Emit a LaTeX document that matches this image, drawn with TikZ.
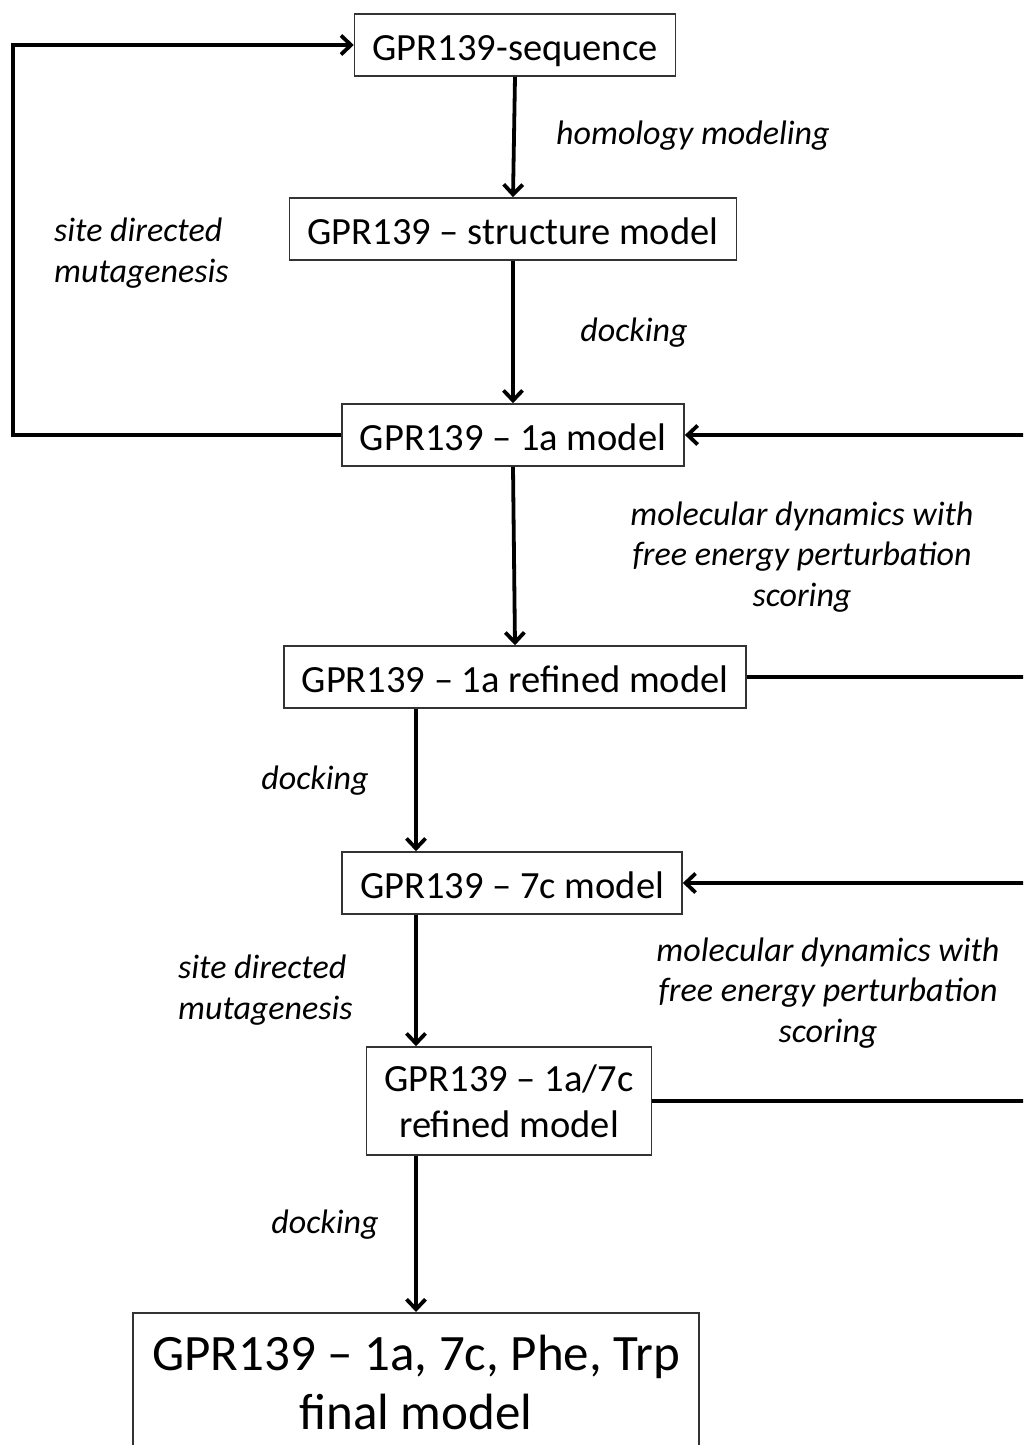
\documentclass[tikz,border=0pt]{standalone}
\usepackage{fontspec}
\setmainfont{Carlito}
\usetikzlibrary{arrows.meta,positioning,calc}
\tikzset{
    flow/.style = {
        line width=3.8pt,
        -{Straight Barb[length=10pt, width=19pt]},
        },
    plain/.style = {
        line width=3.8pt,
        },
}

\begin{document}
\begin{tikzpicture}[
            x=1pt, y=-1pt,
            ModelBlock/.style={draw=black!80, line width=1.6pt, minimum height=62pt, inner xsep=18pt, inner ysep=4pt, font=\fontsize{38.5}{46}\selectfont, align=center},
            OneLine/.style={text height=30pt, text depth=0pt},
            FinalBlock/.style={draw=black!80, line width=1.6pt, inner xsep=19pt, inner ysep=22pt, font=\fontsize{51}{59}\selectfont, align=center},
            StepLabel/.style={font=\itshape\fontsize{34}{40.5}\selectfont, inner sep=0pt},
            line join=miter
            ]
            \useasboundingbox (0,0) rectangle (1023,1445);
            \clip (0,0) rectangle (1023,1445);

            % models
            \node [ModelBlock, OneLine] (seq) at (515,45) {GPR139-sequence};
            \node [ModelBlock, OneLine] (struct) at (513,229) {GPR139 -- structure model};
            \node [ModelBlock, OneLine] (m1a) at (513,435) {GPR139 -- 1a model};
            \node [ModelBlock, OneLine] (m1aref) at (515,677) {GPR139 -- 1a refined model};
            \node [ModelBlock, OneLine] (m7c) at (512,883) {GPR139 -- 7c model};
            \node [ModelBlock, minimum height=108pt] (m1a7c) at (509,1101) {GPR139 -- 1a/7c\\refined model};
            \node [FinalBlock, anchor=north] (final) at (416,1312) {GPR139 -- 1a, 7c, Phe, Trp\\final model};

            % methods
            \node [StepLabel, align=left, anchor=west] (hom) at (556,136) {homology modeling};
            \node [StepLabel] (dock1) at (634,333) {docking};
            \node [StepLabel, align=left, anchor=west] (sdm1) at (54,253) {site directed\\mutagenesis};
            \node [StepLabel, align=center] (md1) at (802,557) {molecular dynamics with\\free energy perturbation\\scoring};
            \node [StepLabel] (dock2) at (315,781) {docking};
            \node [StepLabel, align=left, anchor=west] (sdm2) at (178,990) {site directed\\mutagenesis};
            \node [StepLabel, align=center] (md2) at (828,993) {molecular dynamics with\\free energy perturbation\\scoring};
            \node [StepLabel] (dock3) at (325,1225) {docking};

            \coordinate (lft) at (13,0);
            \coordinate (rgt) at (1030,0);

            \draw[flow] (seq.south) -- (struct.north);
            \draw[flow] (struct.south) -- (m1a.north);
            \draw[flow] (m1a.south) -- (m1aref.north);
            \draw[flow] (m1aref.south -| final.north) -- (m7c.north -| final.north);
            \draw[flow] (m7c.south -| final.north) -- (m1a7c.north -| final.north);
            \draw[flow] (m1a7c.south -| final.north) -- (final.north);

            \draw[flow] (m1a.west) -- (m1a.west -| lft) |- (seq.west);
            \draw[flow] (m1a.east -| rgt) -- (m1a.east);
            \draw[plain] (m1aref.east) -- (m1aref.east -| rgt);
            \draw[flow] (m7c.east -| rgt) -- (m7c.east);
            \draw[plain] (m1a7c.east) -- (m1a7c.east -| rgt);
\end{tikzpicture}
\end{document}
